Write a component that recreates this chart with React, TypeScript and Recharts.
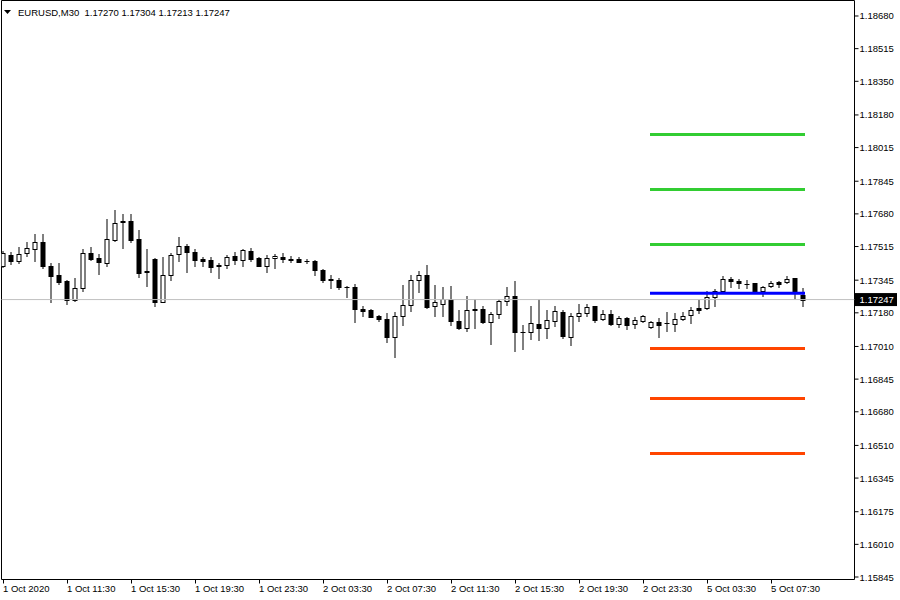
import React from 'react';
import { ComposedChart, Bar, XAxis, YAxis, ReferenceLine, ReferenceArea } from 'recharts';

const symbolTitle = 'EURUSD,M30  1.17270 1.17304 1.17213 1.17247';

const opens = [
  1.17415, 1.17474, 1.17443, 1.17484, 1.17504, 1.1754, 1.17418, 1.17369, 1.17339, 1.17246,
  1.17307, 1.17484, 1.17455, 1.17434, 1.17549, 1.17645, 1.17645, 1.17555, 1.17389, 1.1745,
  1.17236, 1.17369, 1.17478, 1.17518, 1.17488, 1.17453, 1.17448, 1.17415, 1.17424, 1.17465,
  1.17448, 1.17494, 1.17455, 1.17418, 1.17458, 1.17463, 1.17453, 1.1745, 1.17443, 1.1744,
  1.17398, 1.1735, 1.17348, 1.17313, 1.17313, 1.172, 1.17193, 1.17162, 1.17148, 1.17058,
  1.17163, 1.17218, 1.17348, 1.17369, 1.17212, 1.17227, 1.1725, 1.1714, 1.17104, 1.17198,
  1.172, 1.17132, 1.17174, 1.17238, 1.17264, 1.17084, 1.17084, 1.17125, 1.17104, 1.17139,
  1.17185, 1.17058, 1.17163, 1.17178, 1.17215, 1.17147, 1.17175, 1.17124, 1.17152, 1.17124,
  1.17139, 1.17109, 1.17132, 1.17129, 1.17125, 1.17149, 1.17169, 1.17202, 1.17202, 1.1726,
  1.17292, 1.17349, 1.1734, 1.17325, 1.17329, 1.17289, 1.17315, 1.17334, 1.17335, 1.17355,
  1.1727,
];

const highs = [
  1.1749, 1.17485, 1.17514, 1.1754, 1.1758, 1.1758, 1.17434, 1.17434, 1.17344, 1.17355,
  1.17502, 1.17515, 1.17475, 1.17655, 1.177, 1.1768, 1.1768, 1.176, 1.17504, 1.17459,
  1.17464, 1.1748, 1.17565, 1.17528, 1.17504, 1.17463, 1.17463, 1.17434, 1.17474, 1.17489,
  1.17504, 1.1751, 1.17463, 1.17474, 1.17478, 1.17483, 1.17465, 1.17461, 1.17453, 1.17445,
  1.17401, 1.1737, 1.17358, 1.17314, 1.17328, 1.17212, 1.17197, 1.1717, 1.17178, 1.17186,
  1.1732, 1.1737, 1.1739, 1.1742, 1.1732, 1.17309, 1.17315, 1.17195, 1.17264, 1.17252,
  1.17212, 1.17184, 1.1725, 1.17309, 1.1734, 1.1712, 1.17215, 1.1725, 1.17194, 1.17215,
  1.17194, 1.17177, 1.17225, 1.17224, 1.17215, 1.17195, 1.17192, 1.17162, 1.17159, 1.17159,
  1.1717, 1.17139, 1.17154, 1.17182, 1.1718, 1.17184, 1.17207, 1.17245, 1.1729, 1.17299,
  1.17365, 1.17362, 1.1735, 1.17347, 1.17331, 1.17315, 1.1734, 1.1734, 1.17365, 1.17356,
  1.17304,
];

const lows = [
  1.1741, 1.17426, 1.17432, 1.17466, 1.17443, 1.17404, 1.17236, 1.17324, 1.17227, 1.17241,
  1.17292, 1.17449, 1.17375, 1.17419, 1.17545, 1.1751, 1.17537, 1.17359, 1.17317, 1.17217,
  1.17234, 1.17344, 1.17442, 1.17387, 1.17417, 1.17417, 1.17388, 1.17354, 1.17404, 1.17425,
  1.17417, 1.17443, 1.17417, 1.17387, 1.17406, 1.17437, 1.17435, 1.17435, 1.17433, 1.17373,
  1.17337, 1.17307, 1.17299, 1.17262, 1.17136, 1.17162, 1.17157, 1.1714, 1.17031, 1.16956,
  1.17117, 1.17191, 1.17286, 1.17204, 1.17162, 1.17162, 1.17117, 1.17098, 1.17087, 1.17104,
  1.17129, 1.17024, 1.17154, 1.17222, 1.16987, 1.16995, 1.17049, 1.17044, 1.17054, 1.17115,
  1.17052, 1.17017, 1.17137, 1.17162, 1.17134, 1.17142, 1.1712, 1.1711, 1.17099, 1.17104,
  1.17134, 1.17104, 1.17059, 1.1709, 1.17087, 1.17142, 1.17129, 1.17179, 1.172, 1.17215,
  1.17289, 1.17312, 1.17305, 1.17305, 1.17285, 1.17265, 1.17309, 1.17309, 1.17333, 1.17251,
  1.17213,
];

const closes = [
  1.1748, 1.17443, 1.17478, 1.17508, 1.1754, 1.17417, 1.17367, 1.17337, 1.17246, 1.17304,
  1.17484, 1.17452, 1.17437, 1.17554, 1.17634, 1.1764, 1.1755, 1.17382, 1.17388, 1.17236,
  1.17369, 1.17474, 1.17518, 1.17486, 1.17448, 1.17443, 1.17412, 1.1742, 1.17464, 1.17448,
  1.175, 1.17453, 1.17418, 1.17458, 1.17468, 1.17453, 1.17446, 1.17438, 1.17442, 1.17398,
  1.17346, 1.17344, 1.1731, 1.17312, 1.17199, 1.17187, 1.17157, 1.17148, 1.17058, 1.17163,
  1.17218, 1.17348, 1.17369, 1.1721, 1.17234, 1.1725, 1.17137, 1.17102, 1.17195, 1.17193,
  1.17132, 1.17174, 1.1724, 1.17264, 1.17082, 1.17083, 1.17129, 1.17104, 1.17144, 1.17188,
  1.17062, 1.17163, 1.17178, 1.1721, 1.17142, 1.17175, 1.17124, 1.17152, 1.17119, 1.17144,
  1.17164, 1.17132, 1.17119, 1.17128, 1.1715, 1.17164, 1.17195, 1.17195, 1.17259, 1.17289,
  1.17352, 1.17339, 1.17329, 1.17324, 1.17285, 1.17309, 1.17332, 1.17327, 1.17352, 1.17278,
  1.17247,
];

const xTickIndex = [0, 8, 16, 24, 32, 40, 48, 56, 64, 72, 80, 88, 96];
const xTickLabels = [
  '1 Oct 2020', '1 Oct 11:30', '1 Oct 15:30', '1 Oct 19:30', '1 Oct 23:30',
  '2 Oct 03:30', '2 Oct 07:30', '2 Oct 11:30', '2 Oct 15:30', '2 Oct 19:30',
  '2 Oct 23:30', '5 Oct 03:30', '5 Oct 07:30',
];

const yTickValues = [
  1.1868, 1.18515, 1.1835, 1.1818, 1.18015, 1.17845, 1.1768, 1.17515, 1.17345,
  1.1718, 1.1701, 1.16845, 1.1668, 1.1651, 1.16345, 1.16175, 1.1601, 1.15845,
];

const currentPrice = 1.17247;
const resistanceLevels = [1.18081, 1.17803, 1.17525];
const pivotLevel = 1.17279;
const supportLevels = [1.17, 1.16747, 1.16469];
const levelStartIndex = 81;
const levelEndIndex = 100;

const xDomain = [-0.25, 106.375];
const yDomain = [1.158324, 1.187583];

const data = opens.map((open, i) => ({
  i,
  open,
  high: highs[i],
  low: lows[i],
  close: closes[i],
}));

const FONT = '"Liberation Sans", Arial, sans-serif';

function Candle(props: any) {
  const { x, y, width, height, payload } = props;
  if (x == null || y == null || !payload || isNaN(x) || isNaN(y)) return null;
  const cx = x + (width || 0) / 2;
  const { open, close, high, low } = payload;
  const yHigh = Math.min(y, y + height);
  const yLow = Math.max(y, y + height);
  const span = high - low;
  const toY = (v: number) => (span > 0 ? yHigh + ((high - v) / span) * (yLow - yHigh) : yHigh);
  const yo = toY(open);
  const yc = toY(close);
  const up = close >= open;
  const top = Math.round(Math.min(yo, yc)) + 0.5;
  const bot = Math.round(Math.max(yo, yc)) + 0.5;
  const wTop = Math.round(yHigh);
  const wBot = Math.round(yLow) + 1;
  return (
    <g>
      <line x1={cx} x2={cx} y1={wTop} y2={wBot} stroke="#000" strokeWidth={1} />
      {bot - top < 1 ? (
        <line x1={cx - 2.5} x2={cx + 2.5} y1={top} y2={top} stroke="#000" strokeWidth={1} />
      ) : (
        <rect
          x={cx - 2}
          y={top}
          width={4}
          height={bot - top}
          fill={up ? '#fff' : '#000'}
          stroke="#000"
          strokeWidth={1}
        />
      )}
    </g>
  );
}

function XTick(props: any) {
  const { x, y, payload } = props;
  const idx = xTickIndex.indexOf(payload.value);
  if (idx < 0) return null;
  return (
    <text x={x - 0.5} y={y + 8.5} textAnchor="start" fontSize={9.5} fontFamily={FONT} fill="#000">
      {xTickLabels[idx]}
    </text>
  );
}

function YTick(props: any) {
  const { x, y, payload } = props;
  const v = payload.value;
  if (v === currentPrice) {
    return (
      <g>
        <rect x={x - 3.5} y={y - 6.5} width={42} height={13} fill="#000" />
        <text x={x + 1} y={y + 3.5} textAnchor="start" fontSize={9.5} fontFamily={FONT} fill="#fff">
          {v.toFixed(5)}
        </text>
      </g>
    );
  }
  return (
    <text x={x + 1} y={y + 3.5} textAnchor="start" fontSize={9.5} fontFamily={FONT} fill="#000">
      {v.toFixed(5)}
    </text>
  );
}

export default function App() {
  return (
    <div style={{ position: 'absolute', left: 0, top: 0, width: 900, height: 600, background: '#fff' }}>
      <ComposedChart
        width={900}
        height={600}
        data={data}
        margin={{ top: 0.5, right: 0, bottom: 0, left: 1.5 }}
      >
        <XAxis
          type="number"
          dataKey="i"
          domain={xDomain}
          allowDataOverflow
          ticks={xTickIndex}
          interval={0}
          tick={<XTick />}
          tickSize={4}
          tickMargin={0}
          tickLine={{ stroke: '#000' }}
          axisLine={false}
          height={20.5}
        />
        <YAxis
          type="number"
          orientation="right"
          domain={yDomain}
          allowDataOverflow
          ticks={[...yTickValues, currentPrice]}
          interval={0}
          tick={<YTick />}
          tickSize={4}
          tickMargin={0}
          tickLine={{ stroke: '#000' }}
          axisLine={false}
          width={45.5}
        />
        <ReferenceArea
          x1={xDomain[0]}
          x2={xDomain[1]}
          y1={yDomain[0]}
          y2={yDomain[1]}
          fill="none"
          fillOpacity={0}
          stroke="#000"
          strokeWidth={1}
          ifOverflow="visible"
        />
        <ReferenceLine y={currentPrice} stroke="#c0c0c0" strokeWidth={1} />
        <Bar
          dataKey={(d: any) => [d.low, d.high]}
          shape={(p: any) => <Candle {...p} />}
          barSize={5}
          isAnimationActive={false}
        />
        {resistanceLevels.map((v) => (
          <ReferenceLine
            key={'r' + v}
            segment={[{ x: levelStartIndex, y: v }, { x: levelEndIndex, y: v }]}
            stroke="#32cd32"
            strokeWidth={3}
            strokeLinecap="square"
          />
        ))}
        <ReferenceLine
          segment={[{ x: levelStartIndex, y: pivotLevel }, { x: levelEndIndex, y: pivotLevel }]}
          stroke="#0000ff"
          strokeWidth={3}
          strokeLinecap="square"
        />
        {supportLevels.map((v) => (
          <ReferenceLine
            key={'s' + v}
            segment={[{ x: levelStartIndex, y: v }, { x: levelEndIndex, y: v }]}
            stroke="#ff4500"
            strokeWidth={3}
            strokeLinecap="square"
          />
        ))}
      </ComposedChart>
      <svg width={300} height={20} style={{ position: 'absolute', left: 0, top: 0 }}>
        <polygon points="4,10 11,10 7.5,14" fill="#000" />
        <text x={18} y={16} fontSize={9.5} fontFamily={FONT} fill="#000" style={{ whiteSpace: 'pre' }}>
          {symbolTitle}
        </text>
      </svg>
    </div>
  );
}
